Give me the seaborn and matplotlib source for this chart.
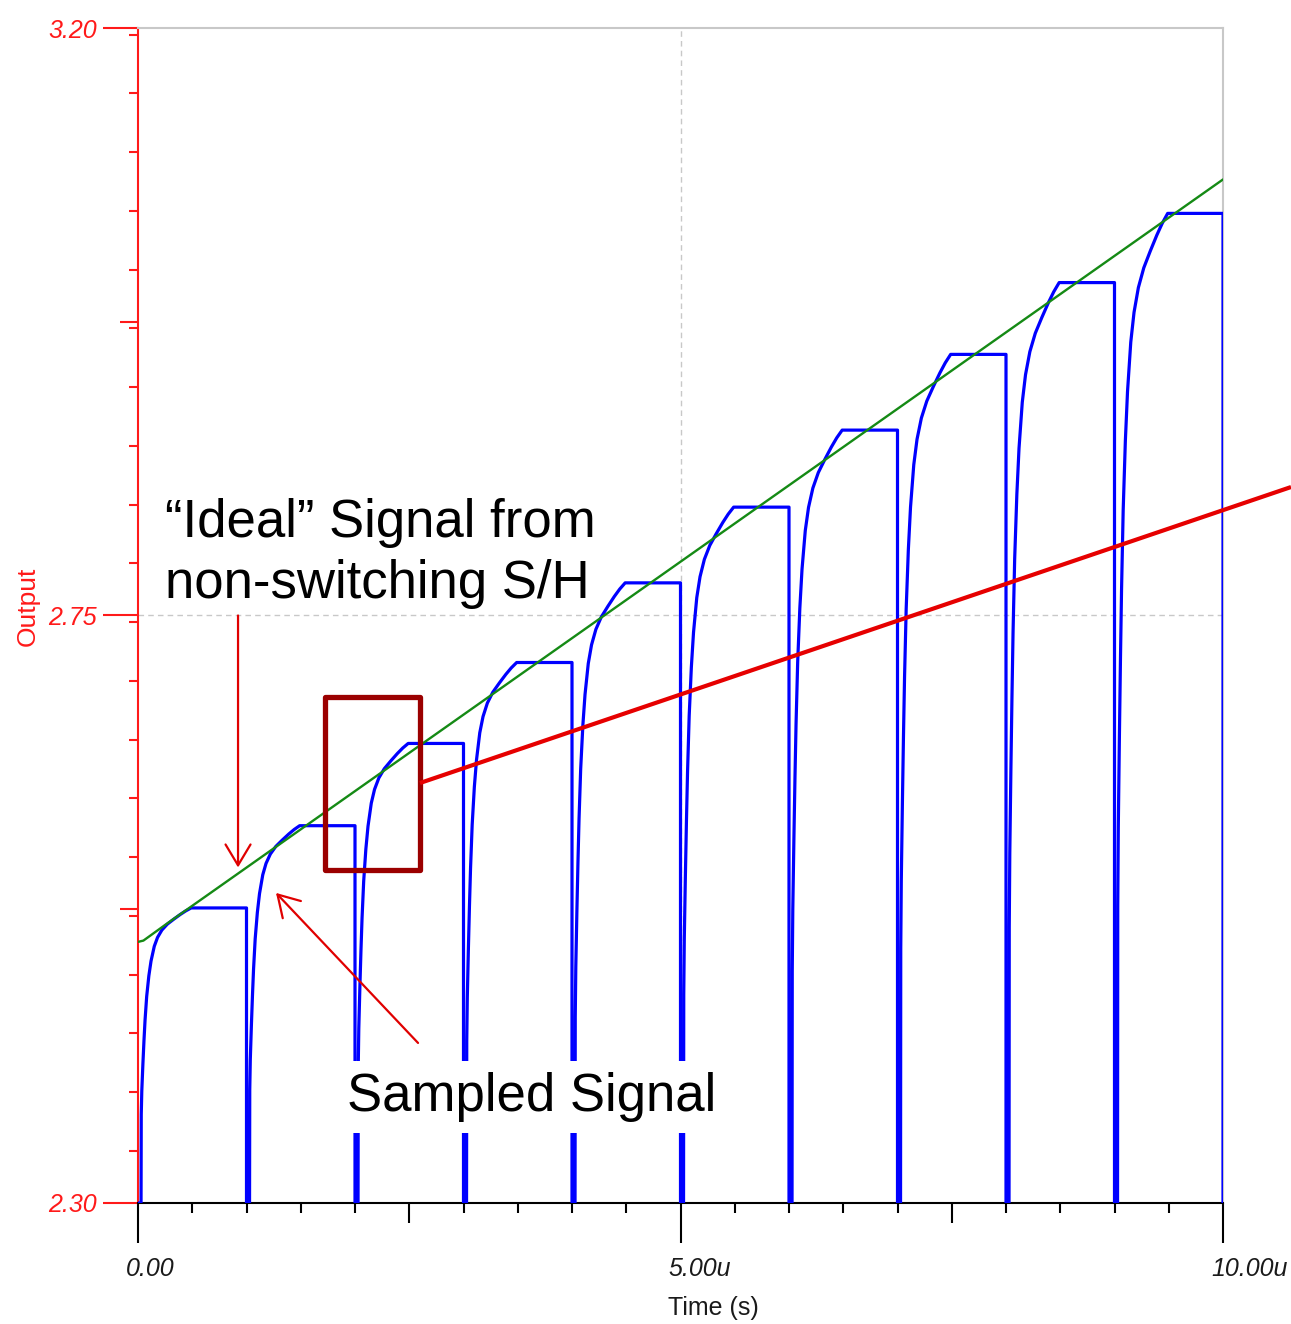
import matplotlib
matplotlib.use('Agg')
import matplotlib.pyplot as plt
import matplotlib.transforms as mtransforms
from matplotlib.patches import Rectangle
from matplotlib.ticker import MultipleLocator
import pandas as pd
import seaborn as sns

# Data (time in us, output in V)
period_start = [0, 1, 2, 3, 4, 5, 6, 7, 8, 9]
hold_level = [2.526, 2.589, 2.652, 2.714, 2.775, 2.833, 2.892, 2.950, 3.005, 3.058]
# settling shape of each sample phase (fraction of the held step)
settle_offset = [0.0, 0.028, 0.03, 0.035, 0.045, 0.055, 0.065, 0.08, 0.10, 0.12,
                 0.15, 0.18, 0.22, 0.27, 0.33, 0.39, 0.44, 0.49]
settle_frac = [0.0, 0.0, 0.30, 0.38, 0.47, 0.55, 0.62, 0.70, 0.77, 0.82,
               0.87, 0.90, 0.925, 0.945, 0.962, 0.978, 0.99, 1.0]
v_floor = 2.30

ideal_t = [0.0, 0.05, 0.25, 10.0]
ideal_v = [2.500, 2.501, 2.513, 3.084]

xtick_pos = [0, 5, 10]
xtick_text = ['0.00', '5.00u', '10.00u']
ytick_text = ['2.30', '', '2.75', '', '3.20']

# build the sampled trace
t_s, v_s = [], []
for start, hold in zip(period_start, hold_level):
    for off, fr in zip(settle_offset, settle_frac):
        t_s.append(start + off)
        v_s.append(v_floor + fr * (hold - v_floor))
    t_s += [start + 1, start + 1]
    v_s += [hold, v_floor]
sampled = pd.DataFrame({'t': t_s, 'v': v_s})
ideal = pd.DataFrame({'t': ideal_t, 'v': ideal_v})

sns.set_theme(style='white')
plt.rcParams['font.family'] = ['Liberation Sans', 'DejaVu Sans']

RED = '#ff1a1a'
W, H = 1291, 1324
fig = plt.figure(figsize=(W / 100, H / 100), dpi=100)
ax = fig.add_axes([138 / W, 1 - 1203 / H, 1085 / W, 1175 / H])

# reference gridlines
ax.axvline(5, color='#c8c8c8', lw=1, ls=(0, (4, 3)), zorder=0)
ax.axhline(2.75, color='#c8c8c8', lw=1, ls=(0, (4, 3)), zorder=0)

sns.lineplot(data=sampled, x='t', y='v', sort=False, estimator=None,
             color='#0000ff', lw=2.3, ax=ax, zorder=3)
sns.lineplot(data=ideal, x='t', y='v', sort=False, estimator=None,
             color='#158a15', lw=1.7, ax=ax, zorder=4)

ax.set_xlim(0, 10)
ax.set_ylim(2.30, 3.20)
ax.set_xlabel('')
ax.set_ylabel('')

# spines
for s in ['top', 'right']:
    ax.spines[s].set_color('#c8c8c8')
    ax.spines[s].set_linewidth(1.5)
ax.spines['left'].set_color(RED)
ax.spines['left'].set_linewidth(1.5)
ax.spines['bottom'].set_color('black')
ax.spines['bottom'].set_linewidth(1.5)

# y ticks
ax.set_yticks([2.30, 2.525, 2.75, 2.975, 3.20])
ax.set_yticklabels(ytick_text)
ax.yaxis.set_minor_locator(MultipleLocator(0.045))
ax.tick_params(axis='y', which='major', left=True, length=25, width=1.5,
               color=RED, labelcolor=RED, pad=4.5, labelsize=18)
ax.tick_params(axis='y', which='minor', left=True, length=6.5, width=1.5, color=RED)
for i in (1, 3):
    ax.yaxis.get_major_ticks()[i].tick1line.set_markersize(13)
for lbl in ax.get_yticklabels():
    lbl.set_fontstyle('italic')

# x ticks
ax.set_xticks([0, 2.5, 5, 7.5, 10])
ax.set_xticklabels([])
ax.xaxis.set_minor_locator(MultipleLocator(0.5))
ax.tick_params(axis='x', which='major', bottom=True, length=29, width=1.5, color='black')
ax.tick_params(axis='x', which='minor', bottom=True, length=7, width=1.5, color='black')
for i in (1, 3):
    ax.xaxis.get_major_ticks()[i].tick1line.set_markersize(14.4)

blend = mtransforms.blended_transform_factory(ax.transData, ax.transAxes)
shift = mtransforms.ScaledTranslation(-12 / 100, -66 / 100, fig.dpi_scale_trans)
for pos, txt in zip(xtick_pos, xtick_text):
    ax.text(pos, 0, txt, transform=blend + shift, ha='left', va='center',
            fontsize=18, fontstyle='italic', color='#1a1a1a')

fig.text(713 / W, 1 - 1308 / H, 'Time (s)', ha='center', va='center',
         fontsize=18, color='#1a1a1a')
fig.text(28 / W, 1 - 606 / H, 'Output', ha='center', va='center', rotation=90,
         fontsize=19, color=RED)

# annotations
box = dict(facecolor='white', edgecolor='none', pad=8)
fig.text(165 / W, 1 - 537 / H, '\u201cIdeal\u201d Signal from', ha='left', va='baseline',
         fontsize=38, color='black', zorder=10)
fig.text(165 / W, 1 - 598 / H, 'non-switching S/H', ha='left', va='baseline',
         fontsize=38, color='black', zorder=10)
ax.text(347 / W, 1 - 1111 / H, 'Sampled Signal', transform=fig.transFigure,
        ha='left', va='baseline', fontsize=38, color='black', bbox=box, zorder=10)

arrow = dict(arrowstyle='->,head_length=0.75,head_width=0.45', color='#e00000',
             lw=1.6, mutation_scale=20, shrinkA=0, shrinkB=0)
ax.annotate('', xy=(0.922, 2.557), xytext=(0.922, 2.750), arrowprops=arrow)
ax.annotate('', xy=(1.272, 2.5375), xytext=(2.581, 2.4226), arrowprops=arrow)

ax.add_patch(Rectangle((1.7235, 2.555), 0.8755, 0.1326, fill=False,
                       edgecolor='#9b0000', lw=3.8, joinstyle='round', zorder=5))
ax.plot([2.599, 10.627], [2.6217, 2.8484], color='#e60000', lw=3,
        clip_on=False, zorder=6, solid_capstyle='butt')

fig.savefig('out.png', dpi=100)
